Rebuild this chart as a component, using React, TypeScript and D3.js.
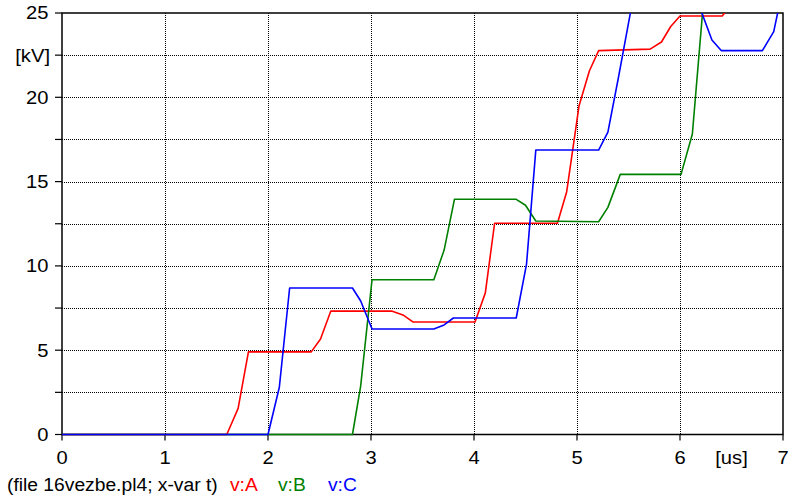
import React from "react";
import * as d3 from "d3";

// Sampled phase voltages (time in us, voltage in kV)
const tA = [0, 1.6, 1.71, 1.81, 2.42, 2.51, 2.61, 3.2, 3.31, 3.41, 4.01, 4.11, 4.2, 4.81, 4.9, 5.02, 5.12, 5.21, 5.71, 5.82, 5.91, 6.0, 6.41, 6.51];
const vA = [0, 0, 1.55, 4.9, 4.9, 5.66, 7.32, 7.32, 7.09, 6.67, 6.67, 8.4, 12.53, 12.53, 14.4, 19.5, 21.56, 22.77, 22.86, 23.28, 24.2, 24.82, 24.82, 25.6];

const tB = [0, 2.82, 2.9, 3.01, 3.61, 3.71, 3.81, 4.41, 4.5, 4.6, 5.21, 5.3, 5.42, 6.01, 6.12, 6.22, 6.3];
const vB = [0, 0, 2.88, 9.18, 9.18, 10.94, 13.95, 13.95, 13.6, 12.66, 12.62, 13.47, 15.43, 15.43, 17.82, 25.1, 28.0];

const tC = [0, 2.0, 2.11, 2.21, 2.82, 2.9, 3.01, 3.61, 3.71, 3.8, 4.41, 4.51, 4.6, 5.21, 5.3, 5.4, 5.5, 5.6, 6.1, 6.2, 6.31, 6.4, 6.8, 6.91, 7.0];
const vC = [0, 0, 2.8, 8.69, 8.69, 7.92, 6.26, 6.26, 6.5, 6.91, 6.91, 10.11, 16.87, 16.87, 17.93, 21.1, 24.4, 27.7, 27.6, 25.2, 23.4, 22.77, 22.77, 23.9, 26.5];

const seriesNames = ["v:A", "v:B", "v:C"];
const seriesColors = ["#ff0000", "#008000", "#0000ff"];
const legendX = [230, 278, 328];

const xTickLabels = ["0", "1", "2", "3", "4", "5", "6", "7"];
const yTickValues = [0, 5, 10, 15, 20, 25];
const yGridValues = [2.5, 5, 7.5, 10, 12.5, 15, 17.5, 20, 22.5];
const yMinorTicks = [0, 2.5, 5, 7.5, 10, 12.5, 15, 17.5, 20, 22.5, 25];

const W = 788;
const H = 500;
const left = 62;
const right = 783;
const top = 13;
const bottom = 434.5;

const FONT = "'Liberation Sans', Arial, sans-serif";

type LabelProps = {
  x: number;
  y: number;
  anchor?: "start" | "middle" | "end";
  size: number;
  sx: number;
  fill?: string;
  dy?: string;
  children: React.ReactNode;
};

// Text with a slight horizontal widening, anchored at (x, y)
function Label({ x, y, anchor = "start", size, sx, fill = "#000", dy, children }: LabelProps) {
  return (
    <text
      transform={`translate(${x},${y}) scale(${sx},1)`}
      textAnchor={anchor}
      fontSize={size}
      fill={fill}
      dy={dy}
    >
      {children}
    </text>
  );
}

export default function App() {
  const x = d3.scaleLinear().domain([0, 7]).range([left, right]);
  const y = d3.scaleLinear().domain([0, 25]).range([bottom, top]);

  const mk = (ts: number[], vs: number[]) =>
    d3
      .line<number>()
      .x((_, i) => x(ts[i]))
      .y((v) => y(v))(vs) || "";

  const paths = [mk(tA, vA), mk(tB, vB), mk(tC, vC)];

  return (
    <svg
      width={W}
      height={H}
      style={{ position: "absolute", left: 0, top: 0, background: "#fff" }}
      fontFamily={FONT}
    >
      <defs>
        <clipPath id="plotClip">
          <rect x={left} y={top} width={right - left} height={bottom - top + 4} />
        </clipPath>
      </defs>

      {/* grid */}
      {yGridValues.map((v) => (
        <line
          key={"gy" + v}
          x1={left}
          x2={right}
          y1={Math.round(y(v)) + 0.5}
          y2={Math.round(y(v)) + 0.5}
          stroke="#000"
          strokeWidth={1}
          strokeDasharray="1,1"
        />
      ))}
      {d3.range(1, 7).map((t) => (
        <line
          key={"gx" + t}
          x1={Math.round(x(t)) + 0.5}
          x2={Math.round(x(t)) + 0.5}
          y1={top}
          y2={bottom}
          stroke="#000"
          strokeWidth={1}
          strokeDasharray="1,1"
        />
      ))}

      {/* frame */}
      <rect x={left} y={top} width={right - left} height={bottom - top} fill="none" stroke="#000" strokeWidth={1.5} />

      {/* y ticks */}
      {yMinorTicks.map((v) => (
        <line key={"ty" + v} x1={left - 7} x2={left} y1={y(v)} y2={y(v)} stroke="#000" strokeWidth={1.2} />
      ))}
      {yTickValues.map((v) => (
        <Label key={"ly" + v} x={48.5} y={y(v)} dy="0.36em" anchor="end" size={18} sx={1.12}>
          {v}
        </Label>
      ))}
      <Label x={50} y={y(22.5)} dy="0.36em" anchor="end" size={18} sx={1.12}>
        [kV]
      </Label>

      {/* x ticks */}
      {xTickLabels.map((lab, i) => (
        <g key={"tx" + i}>
          <line x1={x(i)} x2={x(i)} y1={bottom} y2={bottom + 6} stroke="#000" strokeWidth={1.2} />
          <Label x={x(i)} y={464} anchor="middle" size={18} sx={1.12}>
            {lab}
          </Label>
        </g>
      ))}
      <Label x={x(6.5)} y={464} anchor="middle" size={18} sx={1.12}>
        [us]
      </Label>

      {/* curves */}
      <g clipPath="url(#plotClip)">
        {paths.map((d, i) => (
          <path key={seriesNames[i]} d={d} fill="none" stroke={seriesColors[i]} strokeWidth={1.6} strokeLinejoin="round" />
        ))}
      </g>

      {/* footer legend */}
      <Label x={7} y={491} size={18} sx={1.07}>
        (file 16vezbe.pl4; x-var t)
      </Label>
      {seriesNames.map((n, i) => (
        <Label key={"lg" + n} x={legendX[i]} y={491} size={18} sx={1.07} fill={seriesColors[i]}>
          {n}
        </Label>
      ))}
    </svg>
  );
}
